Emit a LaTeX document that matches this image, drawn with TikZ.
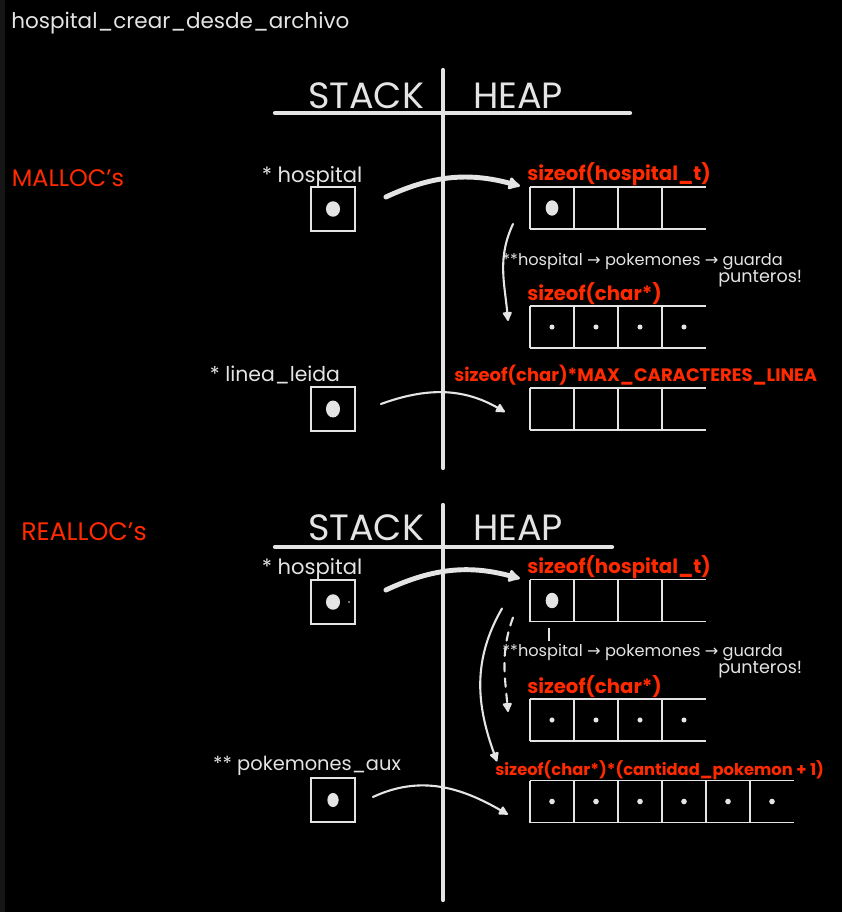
\documentclass[tikz,border=0pt]{standalone}
\usepackage{fontspec}
\setmainfont{Poppins}
\newfontfamily\symfont{DejaVu Sans}
\usetikzlibrary{arrows.meta,positioning,calc}
\definecolor{board}{HTML}{000000}
\definecolor{edge}{HTML}{161616}
\definecolor{chalk}{HTML}{E4E4E4}
\definecolor{marker}{HTML}{FF2A00}
\newcommand{\ptrto}{{\symfont →}}

\begin{document}
\begin{tikzpicture}[x=0.025cm, y=0.025cm,
    cell/.style={rectangle, minimum width=1.1cm, minimum height=1.05cm, inner sep=0pt, outer sep=0pt},
    slot/.style={rectangle, draw=chalk, line width=1.3pt, minimum width=1.1cm, minimum height=1.08cm, inner sep=0pt},
    grid/.style={draw=chalk, line width=1.2pt},
    axis/.style={draw=chalk, line width=3pt, line cap=round},
    varname/.style={text=chalk, font=\fontsize{15pt}{17pt}\selectfont, inner sep=0pt},
    sizelbl/.style={text=marker, font=\fontsize{14pt}{16pt}\selectfont\bfseries, inner sep=0pt, anchor=south west},
    note/.style={text=chalk, font=\fontsize{11.5pt}{13pt}\selectfont, inner sep=0pt, anchor=west},
    section/.style={text=marker, font=\fontsize{17pt}{19pt}\selectfont, inner sep=0pt},
    region/.style={text=chalk, font=\fontsize{26pt}{28pt}\selectfont, inner sep=0pt},
    bigarr/.style={chalk, line width=3.5pt, line cap=round, -{Latex[round, length=10pt, width=11pt]}},
    arr/.style={chalk, line width=1.5pt, line cap=round, -{Latex[round, length=8pt, width=8pt]}}
]
    \fill[board] (0,0) rectangle (842,-912);
    \fill[edge] (0,0) rectangle (5,-912);
    \useasboundingbox (0,0) rectangle (842,-912);

    \node[text=chalk, font=\fontsize{15.3pt}{17pt}\selectfont, anchor=west, inner sep=0pt] (fname) at (11,-23) {hospital\_crear\_desde\_archivo};

    % mallocs
    \node[section] (malloc) at (68,-178) {MALLOC's};
    \node[region] (stack1) at (366,-96) {STACK};
    \node[region] (heap1) at (518,-96) {HEAP};
    \draw[axis] (275,-113) -- (630,-113);
    \draw[axis] (443,-70) -- (443,-468);

    \node[slot] (hospbox) at (333,-209) {};
    \fill[chalk] (hospbox) ellipse (5pt and 5.5pt);
    \node[varname] (hosplbl) at (312,-177) {* hospital};

    \node[sizelbl] (hospsz) at (527,-186) {sizeof(hospital\_t)};
    \foreach \i in {1,...,4} {
        \node[cell] (h\i) at (508+44*\i,-208) {};
    }
    \draw[grid] (h1.north west) -- (h4.north east) (h1.south west) -- (h4.south east);
    \foreach \i in {1,...,4} {
        \draw[grid] (h\i.north west) -- (h\i.south west);
    }
    \fill[chalk] (h1) ellipse (4.5pt and 5.5pt);
    \draw[bigarr] ($(hospbox.east)+(30,12)$) to[out=25,in=165] ($(h1.north west)+(-10,1)$);

    \node[note] (ptrnote) at (502,-262) {**hospital \ptrto{} pokemones \ptrto{} guarda};
    \node[note, font=\fontsize{12.5pt}{14pt}\selectfont] (ptrnote2) at (718,-279) {punteros!};
    \node[sizelbl] (charsz) at (527,-305) {sizeof(char*)};
    \foreach \i in {1,...,4} {
        \node[cell] (c\i) at (508+44*\i,-327) {};
        \fill[chalk] (c\i) circle (1.8pt);
    }
    \draw[grid] (c1.north west) -- (c4.north east) (c1.south west) -- (c4.south east);
    \foreach \i in {1,...,4} {
        \draw[grid] (c\i.north west) -- (c\i.south west);
    }
    \draw[arr] ($(h1.south west)+(-17,5)$) to[out=245,in=95] ($(c1.north west)+(-22,-15)$);

    \node[varname, font=\fontsize{14.5pt}{16pt}\selectfont] (linealbl) at (275,-375) {* linea\_leida};
    \node[slot] (lineabox) at (333,-409) {};
    \fill[chalk] (lineabox) ellipse (5pt and 6pt);
    \node[sizelbl, font=\fontsize{12.8pt}{14pt}\selectfont\bfseries] (lineasz) at (454,-386) {sizeof(char)*MAX\_CARACTERES\_LINEA};
    \foreach \i in {1,...,4} {
        \node[cell] (l\i) at (508+44*\i,-409) {};
    }
    \draw[grid] (l1.north west) -- (l4.north east) (l1.south west) -- (l4.south east);
    \foreach \i in {1,...,4} {
        \draw[grid] (l\i.north west) -- (l\i.south west);
    }
    \draw[arr] ($(lineabox.east)+(25,5)$) to[out=20,in=150] ($(l1.west)+(-25,-3)$);

    % reallocs
    \node[section, font=\fontsize{18pt}{20pt}\selectfont] (realloc) at (84,-532) {REALLOC's};
    \node[region] (stack2) at (366,-528) {STACK};
    \node[region] (heap2) at (518,-528) {HEAP};
    \draw[axis] (275,-547) -- (612,-547);
    \draw[axis] (443,-505) -- (443,-900);

    \node[varname] (hosplbl2) at (312,-569) {* hospital};
    \node[slot] (hospbox2) at (333,-602) {};
    \fill[chalk] (hospbox2) ellipse (5pt and 5.5pt);
    \fill[chalk] (349,-602) circle (0.7pt);

    \node[sizelbl] (hospsz2) at (527,-579) {sizeof(hospital\_t)};
    \foreach \i in {1,...,4} {
        \node[cell] (r\i) at (508+44*\i,-600.5) {};
    }
    \draw[grid] (r1.north west) -- (r4.north east) (r1.south west) -- (r4.south east);
    \foreach \i in {1,...,4} {
        \draw[grid] (r\i.north west) -- (r\i.south west);
    }
    \fill[chalk] (r1) ellipse (4.5pt and 5.5pt);
    \draw[grid] ($(r1.south)+(-3,-6)$) -- ++(0,-13);
    \draw[bigarr] ($(hospbox2.east)+(30,12)$) to[out=25,in=165] ($(r1.north west)+(-10,1)$);

    \node[note] (ptrnote3) at (502,-653) {**hospital \ptrto{} pokemones \ptrto{} guarda};
    \node[note, font=\fontsize{12.5pt}{14pt}\selectfont] (ptrnote4) at (718,-670) {punteros!};
    \node[sizelbl] (charsz2) at (527,-698) {sizeof(char*)};
    \foreach \i in {1,...,4} {
        \node[cell] (p\i) at (508+44*\i,-720) {};
        \fill[chalk] (p\i) circle (1.8pt);
    }
    \draw[grid] (p1.north west) -- (p4.north east) (p1.south west) -- (p4.south east);
    \foreach \i in {1,...,4} {
        \draw[grid] (p\i.north west) -- (p\i.south west);
    }
    \draw[arr, dash pattern=on 6pt off 5pt] ($(r1.south west)+(-17,4)$) to[out=250,in=95] ($(p1.north west)+(-22,-13)$);

    \node[varname, font=\fontsize{13.8pt}{15pt}\selectfont] (auxlbl) at (307,-766) {** pokemones\_aux};
    \node[slot] (auxbox) at (333,-800) {};
    \fill[chalk] (auxbox) ellipse (4pt and 5pt);
    \node[sizelbl, font=\fontsize{11.6pt}{13pt}\selectfont\bfseries] (auxsz) at (495,-780) {sizeof(char*)*(cantidad\_pokemon + 1)};
    \foreach \i in {1,...,6} {
        \node[cell] (q\i) at (508+44*\i,-801.5) {};
        \fill[chalk] (q\i) circle (2pt);
    }
    \draw[grid] (q1.north west) -- (q6.north east) (q1.south west) -- (q6.south east);
    \foreach \i in {1,...,6} {
        \draw[grid] (q\i.north west) -- (q\i.south west);
    }
    \draw[arr] ($(r1.south west)+(-28,13)$) to[out=240,in=110] ($(q1.north west)+(-33,19)$);
    \draw[arr] ($(auxbox.east)+(17,3)$) to[out=25,in=150] ($(q1.west)+(-22,-13)$);
\end{tikzpicture}
\end{document}
